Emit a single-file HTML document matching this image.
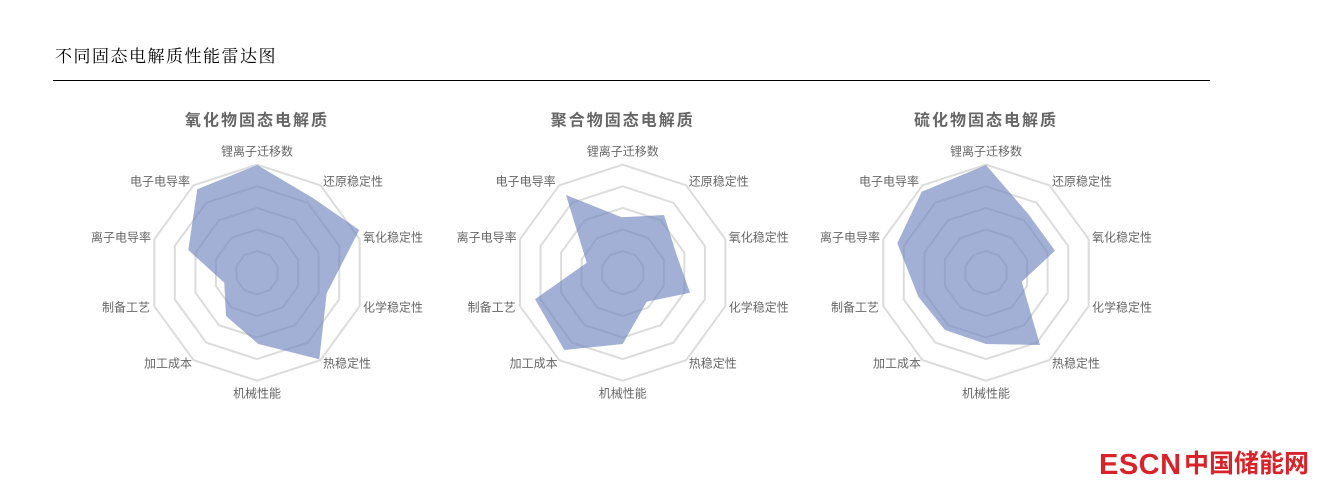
<!DOCTYPE html>
<html><head><meta charset="utf-8"><style>
body{margin:0;width:1335px;height:490px;background:#fff;overflow:hidden;font-family:"Liberation Sans","Noto Sans CJK SC",sans-serif;}
</style></head><body>
<svg id="s" width="1335" height="490" xmlns="http://www.w3.org/2000/svg" style="position:absolute;left:0;top:0">
<text x="55" y="62" font-family="'Noto Serif CJK SC','Liberation Serif','Noto Sans CJK SC',serif" font-size="17" fill="#000" letter-spacing="1.5">不同固态电解质性能雷达图</text>
<line x1="53" y1="80.5" x2="1210" y2="80.5" stroke="#000" stroke-width="1"/>
<g id="charts"></g>
<text x="1099" y="474" font-family="'Liberation Sans',sans-serif" font-weight="bold" font-size="29" fill="#d9232a" letter-spacing="0.5">ESCN</text>
<text x="1184" y="472" font-family="'Noto Sans CJK SC',sans-serif" font-weight="bold" font-size="25" fill="#d9232a">中国储能网</text>
</svg>
<script>
var g=document.getElementById('charts');var ns='http://www.w3.org/2000/svg';
function el(t,a,txt){var e=document.createElementNS(ns,t);for(var k in a)e.setAttribute(k,a[k]);if(txt)e.textContent=txt;g.appendChild(e);return e;}
var charts=[
 {cx:257,cy:272.7,title:'氧化物固态电解质',pts:[[257.3,165],[313.3,198.3],[359.3,230],[326.7,293.3],[319.3,359.3],[258.3,344],[226,316],[224.3,282.7],[188.3,250],[197.3,189.3]]},
 {cx:622.7,cy:272.7,title:'聚合物固态电解质',pts:[[621.7,217.3],[664,215],[676,253],[690,292.7],[646.7,301.7],[622.7,344],[564.3,350],[535,299.3],[586.7,262.7],[566,195]]},
 {cx:986,cy:272.7,title:'硫化物固态电解质',pts:[[986,165],[1028.3,214],[1055,250.7],[1021.7,281.7],[1040,345],[986,344],[945,330],[918.3,296.7],[897.3,243.3],[921.7,191.7]]}
];
var labels=[['锂离子迁移数',0,-118,'middle'],['还原稳定性',66,-88,'start'],['氧化稳定性',106,-32,'start'],['化学稳定性',106,38,'start'],['热稳定性',66,94,'start'],['机械性能',0,124,'middle'],['加工成本',-65,94,'end'],['制备工艺',-107,38,'end'],['离子电导率',-106,-32,'end'],['电子电导率',-67,-88,'end']];
charts.forEach(function(c){
 for(var r=1;r<=5;r++){var R=21.6*r,p=[];for(var i=0;i<10;i++){var a=-Math.PI/2+i*Math.PI/5;p.push((c.cx+R*Math.cos(a)).toFixed(1)+','+(c.cy+R*Math.sin(a)).toFixed(1));}
  el('polygon',{points:p.join(' '),fill:'none',stroke:'#dcdcdc','stroke-width':2});}
 el('polygon',{points:c.pts.map(function(q){return q.join(',')}).join(' '),fill:'rgba(112,134,190,0.65)',stroke:'none'});
 el('text',{x:c.cx,y:c.cy-147,'text-anchor':'middle','font-size':16,'font-weight':'bold',fill:'#666','letter-spacing':2},c.title);
 labels.forEach(function(l){el('text',{x:c.cx+l[1],y:c.cy+l[2]+1,'text-anchor':l[3],'font-size':12,fill:'#666'},l[0]);});
});
</script>
</body></html>
